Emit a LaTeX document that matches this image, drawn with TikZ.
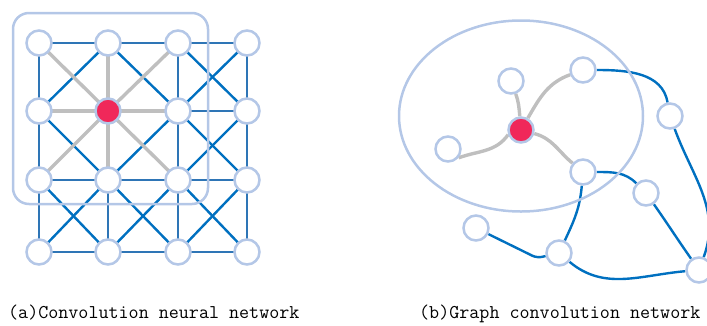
\documentclass[tikz,border=0pt]{standalone}
\usepackage{fontspec}
\usetikzlibrary{backgrounds}
\begin{document}
\begin{tikzpicture}[x=1pt,y=-1pt,
  vtx/.style={circle,draw=ringblue,fill=white,line width=2.5pt,minimum size=25pt,inner sep=0pt},
  hub/.style={vtx,fill=hubred},
  gridline/.style={draw=gridblue,line width=2.6pt},
  diagline/.style={draw=diagblue,line width=2.4pt},
  nbrline/.style={draw=nbrgray,line width=3.4pt},
  graphline/.style={draw=diagblue,line width=2.4pt},
  frame/.style={draw=ringblue,line width=2.5pt},
  caption/.style={font=\ttfamily\addfontfeatures{FakeBold=0.8}\fontsize{19.5}{21}\selectfont,anchor=base west,inner sep=0pt}]
\definecolor{ringblue}{HTML}{B4C7E7}
\definecolor{gridblue}{HTML}{2E75B6}
\definecolor{diagblue}{HTML}{0070C0}
\definecolor{nbrgray}{HTML}{BFBFBF}
\definecolor{hubred}{HTML}{F0285A}
\useasboundingbox (0,0) rectangle (707,325);
\begin{scope}
\clip (0,0) rectangle (707,325);

% ---------- (a) grid ----------
\def\colx{{39,108,178,247}}
\def\rowy{{43,111,180,252}}
\foreach \i in {0,...,3}
  \foreach \j in {0,...,3}{
    \pgfmathsetmacro\px{\colx[\i]}
    \pgfmathsetmacro\py{\rowy[\j]}
    \coordinate (g\i\j) at (\px,\py);
  }

% horizontal and vertical edges
\foreach \i in {0,1,2}
  \foreach \j in {0,...,3}{
    \pgfmathtruncatemacro\k{\i+1}
    \pgfmathtruncatemacro\hit{or(and(\i==1,\j==1),and(\k==1,\j==1))}
    \ifnum\hit=0 \draw[gridline] (g\i\j) -- (g\k\j);\fi
  }
\foreach \i in {0,...,3}
  \foreach \j in {0,1,2}{
    \pgfmathtruncatemacro\k{\j+1}
    \pgfmathtruncatemacro\hit{or(and(\i==1,\j==1),and(\i==1,\k==1))}
    \ifnum\hit=0 \draw[gridline] (g\i\j) -- (g\i\k);\fi
  }
% diagonal edges of every cell
\foreach \i in {0,1,2}
  \foreach \j in {0,1,2}{
    \pgfmathtruncatemacro\k{\i+1}
    \pgfmathtruncatemacro\l{\j+1}
    \pgfmathtruncatemacro\hita{or(and(\i==1,\j==1),and(\k==1,\l==1))}
    \pgfmathtruncatemacro\hitb{or(and(\k==1,\j==1),and(\i==1,\l==1))}
    \ifnum\hita=0 \draw[diagline] (g\i\j) -- (g\k\l);\fi
    \ifnum\hitb=0 \draw[diagline] (g\k\j) -- (g\i\l);\fi
  }
% edges of the central vertex
\foreach \a/\b in {0/0,1/0,2/0,0/1,2/1,0/2,1/2,2/2}
  \draw[nbrline] (g11) -- (g\a\b);

% receptive field
\draw[frame,rounded corners=16pt] (13,13) rectangle (208,204);

% vertices
\foreach \i in {0,...,3}
  \foreach \j in {0,...,3}{
    \ifnum\i\j=11
      \node[hub] (v\i\j) at (g\i\j) {};
    \else
      \node[vtx] (v\i\j) at (g\i\j) {};
    \fi
  }

% ---------- (b) graph ----------
\node[vtx] (b1) at (511,81) {};
\node[vtx] (b2) at (583,70) {};
\node[vtx] (b3) at (670,116) {};
\node[vtx] (b4) at (448,149) {};
\node[vtx] (b5) at (583,172) {};
\node[vtx] (b6) at (646,193) {};
\node[vtx] (b7) at (476,228) {};
\node[vtx] (b8) at (559,253) {};
\node[vtx] (b9) at (699,270) {};
\node[hub] (bc) at (521,130) {};
\coordinate (bend78) at (537,258);

\begin{pgfonlayer}{background}
% blue edges
\draw[graphline] (b2) to[out=0,in=100] (b3);
\draw[graphline] (b3) to[out=-70,in=70] (b9);
\draw[graphline] (b5) to[out=0,in=135] (b6);
\draw[graphline] (b6) to[out=-55,in=125] (b9);
\draw[graphline] (b5) to[out=-95,in=65] (b8);
\draw[graphline,rounded corners=5pt] (b7) -- (bend78) -- (b8);
\draw[graphline] (b8) to[out=-40,in=185] (b9);
% gray neighbourhood edges
\draw[nbrline] (bc) to[out=95,in=-70] (b1);
\draw[nbrline] (bc) to[out=60,in=200] (b2);
\draw[nbrline] (bc.200) to[out=235,in=20] (b4.-40);
\draw[nbrline] (bc) to[out=-15,in=140] (b5);
\end{pgfonlayer}

% neighbourhood outline
\draw[frame] (521,116) ellipse [x radius=122, y radius=95.5];
\end{scope}

% captions
\node[caption] (capa) at (8,318) {(a)Convolution neural network};
\node[caption] (capb) at (419,318) {(b)Graph convolution network};
\end{tikzpicture}
\end{document}
